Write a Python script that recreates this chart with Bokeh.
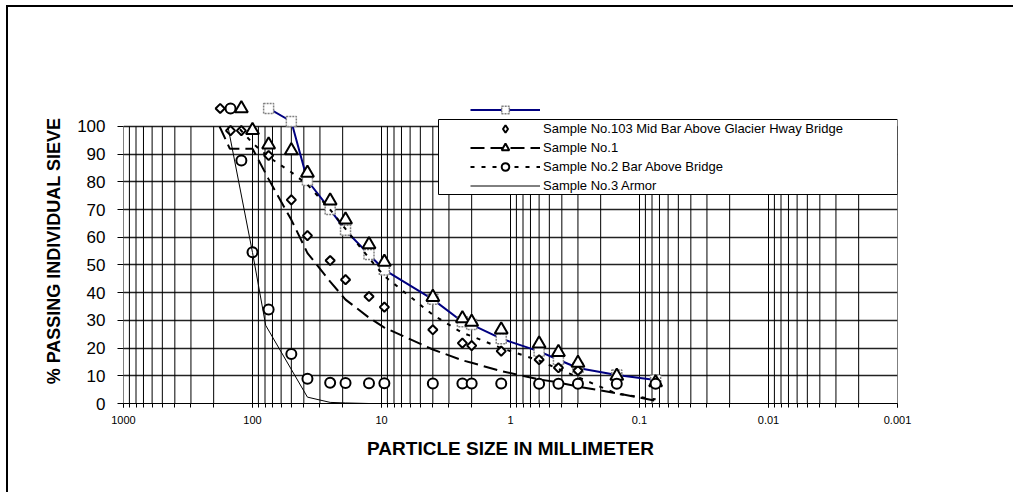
import numpy as np
from bokeh.plotting import figure
from bokeh.models import (Range1d, FixedTicker, CustomJSTickFormatter, Legend,
                          LegendItem, BoxAnnotation)
from bokeh.embed import file_html
from bokeh.resources import INLINE

# ---- data: particle size (mm) and % passing ----
blue_size = [75, 50, 37.5, 25, 19, 12.5, 9.5, 4, 2.36, 2.0, 1.18, 0.6, 0.425, 0.3, 0.15, 0.075]
blue_pass = [106.5, 101.8, 80.5, 70, 62.5, 53.8, 48.2, 37.6, 29.5, 28.5, 23.4, 18.8, 15.8, 12.8, 10.3, 8.5]

s103_size = [178, 148, 122, 75, 50, 37.5, 25, 19, 12.5, 9.5, 4, 2.36, 2.0, 1.18, 0.6, 0.425, 0.3]
s103_pass = [106.5, 98.5, 98.5, 89.5, 73.5, 60.6, 51.6, 44.7, 38.6, 34.8, 26.6, 21.8, 20.9, 18.9, 15.8, 12.9, 11.9]

s1_pt_size = [122, 100, 75, 50, 37.5, 25, 19, 12.5, 9.5, 4, 2.36, 2.0, 1.18, 0.6, 0.425, 0.3, 0.15, 0.075]
s1_pt_pass = [106.5, 98.6, 93.4, 91.3, 83.2, 73.2, 66.3, 57.4, 51.1, 38.4, 30.7, 29.4, 26.6, 21.6, 18.5, 14.6, 9.9, 7.6]
s1_ln_size = [180, 150, 100, 75, 50, 37.5, 25, 19, 12.5, 9.5, 4, 2.36, 2.0, 1.18, 0.6, 0.425, 0.3, 0.15, 0.075]
s1_ln_pass = [100, 92, 92, 81, 66.3, 54.3, 44, 37.5, 31, 27.4, 19.5, 15.6, 14.7, 11.7, 8.7, 7.6, 6.1, 3.7, 1.0]

s2_pt_size = [148, 122, 100, 75, 50, 37.5, 25, 19, 12.5, 9.5, 4, 2.36, 2.0, 1.18, 0.6, 0.425, 0.3, 0.15, 0.075]
s2_pt_pass = [106.5, 87.7, 54.6, 33.9, 17.9, 8.9, 7.5, 7.4, 7.3, 7.3, 7.2, 7.2, 7.2, 7.2, 7.1, 7.1, 7.1, 7.1, 7.1]
s2_ln_size = [125, 100, 75, 50, 37.5, 25, 19, 12.5, 9.5, 4, 2.36, 2.0, 1.18, 0.6, 0.425, 0.3, 0.15, 0.075]
s2_ln_pass = [99, 94, 89, 83.5, 79, 70, 63, 52.5, 46, 32, 25.5, 24.3, 20, 15.5, 12.5, 9.5, 3.5, 1.5]

s3_size = [155, 100, 79, 37.5, 25, 19, 12.5, 9.5, 4, 2.36, 2.0, 1.18, 0.6, 0.425, 0.3, 0.15, 0.075]
s3_pass = [100, 54.5, 28.2, 2.3, 0.4, 0.2, 0, 0, 0, 0, 0, 0, 0, 0, 0, 0, 0]

x_major = [1000, 100, 10, 1, 0.1, 0.01, 0.001]
y_major = [0, 10, 20, 30, 40, 50, 60, 70, 80, 90, 100]

label_103 = "Sample No.103 Mid Bar Above Glacier Hway Bridge"
label_1 = "Sample No.1"
label_2 = "Sample No.2 Bar Above Bridge"
label_3 = "Sample No.3 Armor"

FONT = "Liberation Sans"

# ---- figure ----
p = figure(width=1007, height=487, x_axis_type="log",
           x_range=Range1d(1000, 0.001), y_range=Range1d(0, 110.1),
           output_backend="svg", toolbar_location=None,
           min_border_left=115, min_border_right=118,
           min_border_top=91, min_border_bottom=91)
p.margin = (5, 0, 0, 6)
p.styles = {"border-left": "2px solid #000", "border-top": "2px solid #000"}
p.outline_line_color = None
p.background_fill_color = "white"
p.border_fill_color = "white"

# log grid: every 1..9 within each decade, only over the 0-100 band
grid_x = [k * 10.0 ** e for e in range(-3, 3) for k in range(1, 10)] + [1000]
p.segment(x0=grid_x, y0=[0] * len(grid_x), x1=grid_x, y1=[100] * len(grid_x),
          line_color="black", line_width=1)
p.xgrid.visible = False
p.ygrid.ticker = FixedTicker(ticks=y_major)
p.ygrid.grid_line_color = "#222222"
p.ygrid.grid_line_width = 1.3

# axes
xa = p.xaxis[0]
xa.ticker = FixedTicker(ticks=x_major, minor_ticks=grid_x)
xa.formatter = CustomJSTickFormatter(code="return String(tick)")
xa.axis_line_color = "black"
xa.major_tick_out = 4
xa.major_tick_in = 0
xa.minor_tick_out = 4
xa.minor_tick_in = 0
xa.major_tick_line_color = "black"
xa.minor_tick_line_color = "black"
xa.major_label_text_font = FONT
xa.major_label_text_font_size = "11px"
xa.major_label_text_color = "black"
xa.major_label_standoff = 8
xa.axis_label = "PARTICLE SIZE IN MILLIMETER"
xa.axis_label_text_font = FONT
xa.axis_label_text_font_style = "bold"
xa.axis_label_text_font_size = "19px"
xa.axis_label_text_color = "black"
xa.axis_label_standoff = 11

ya = p.yaxis[0]
ya.ticker = FixedTicker(ticks=y_major)
ya.axis_line_color = None
ya.major_tick_out = 6
ya.major_tick_in = 0
ya.minor_tick_line_color = None
ya.major_tick_line_color = "black"
ya.major_label_text_font = FONT
ya.major_label_text_font_size = "17px"
ya.major_label_text_color = "black"
ya.major_label_standoff = 12
ya.axis_label = "% PASSING INDIVIDUAL SIEVE"
ya.axis_label_text_font = FONT
ya.axis_label_text_font_style = "bold"
ya.axis_label_text_font_size = "18px"
ya.axis_label_text_color = "black"
ya.axis_label_standoff = 10

# ---- series ----
r_blue = p.line(blue_size, blue_pass, line_color="#000080", line_width=2)
r_sq = p.scatter(blue_size, blue_pass, marker="square", size=10,
                 line_color="#808080", line_width=1.5, line_dash="2 1",
                 fill_color="white")

# diamonds drawn as squares turned 45 degrees
r_103 = p.scatter(s103_size, s103_pass, marker="square", angle=np.pi / 4,
                  size=6.5, line_color="black", line_width=2, fill_color="white")
# legend swatch for the diamonds (a single undrawable NaN point)
r_103_key = p.scatter([np.nan], [np.nan], marker="diamond", size=11,
                      line_color="black", line_width=2, fill_color="white")

r_s1_ln = p.line(s1_ln_size, s1_ln_pass, line_color="black", line_width=2,
                 line_dash="14 6")
r_s1_pt = p.scatter(s1_pt_size, s1_pt_pass, marker="triangle", size=13,
                    line_color="black", line_width=2, fill_color="white")

r_s2_ln = p.line(s2_ln_size, s2_ln_pass, line_color="black", line_width=2,
                 line_dash="4 7")
r_s2_pt = p.scatter(s2_pt_size, s2_pt_pass, marker="circle", size=10,
                    line_color="black", line_width=2, fill_color="white")

r_s3 = p.line(s3_size, s3_pass, line_color="black", line_width=1)

# ---- legend ----
box = BoxAnnotation(left=315, right=774, top=284, bottom=209,
                    left_units="screen", right_units="screen",
                    top_units="screen", bottom_units="screen",
                    fill_color="white", fill_alpha=1.0,
                    line_color="black", line_alpha=1.0, line_width=1)
p.add_layout(box)

legend = Legend(items=[
    LegendItem(label=" ", renderers=[r_blue, r_sq]),
    LegendItem(label=label_103, renderers=[r_103_key]),
    LegendItem(label=label_1, renderers=[r_s1_ln, r_s1_pt]),
    LegendItem(label=label_2, renderers=[r_s2_ln, r_s2_pt]),
    LegendItem(label=label_3, renderers=[r_s3]),
], location=(347, 208.5))
legend.padding = 0
legend.margin = 0
legend.spacing = 0
legend.glyph_width = 70
legend.glyph_height = 19
legend.label_height = 19
legend.label_standoff = 3
legend.label_text_font = FONT
legend.label_text_font_size = "13px"
legend.label_text_color = "black"
legend.border_line_color = None
legend.background_fill_alpha = 0
p.add_layout(legend)

open("out.html", "w").write(file_html(p, INLINE))
